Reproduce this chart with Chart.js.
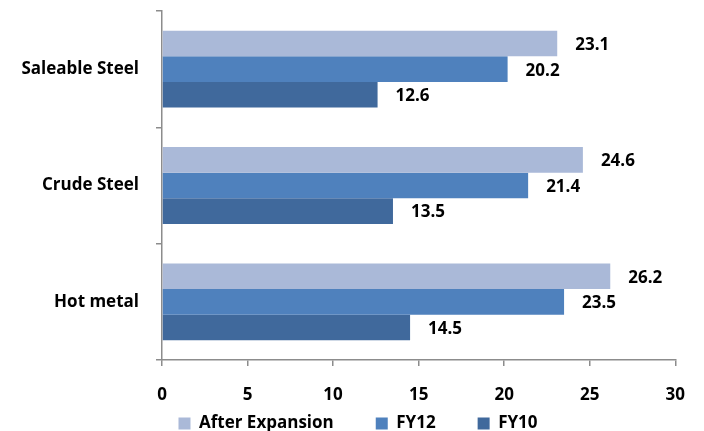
<!DOCTYPE html>
<html><head><meta charset="utf-8">
<script src="https://cdn.jsdelivr.net/npm/chart.js@4/dist/chart.umd.min.js"></script>
<style>html,body{margin:0;padding:0;background:#fff}#wrap{width:704px;height:431px}</style>
</head><body><div id="wrap"><canvas id="c" width="704" height="431"></canvas></div>
<script>
const categories = ['Saleable Steel', 'Crude Steel', 'Hot metal'];
const seriesNames = ['After Expansion', 'FY12', 'FY10'];
const afterExpansion = [23.1, 24.6, 26.2];
const fy12 = [20.2, 21.4, 23.5];
const fy10 = [12.6, 13.5, 14.5];
const xTickValues = [0, 5, 10, 15, 20, 25, 30];

const FONT = 'Open Sans';
const FSIZE = 17;
const LEGEND_PAD = 42;
const LEGEND_BOX_H = 30;

const valueLabels = {
  id: 'valueLabels',
  afterDatasetsDraw(chart) {
    const ctx = chart.ctx;
    ctx.save();
    ctx.font = 'bold ' + FSIZE + 'px "' + FONT + '"';
    ctx.fillStyle = '#000';
    ctx.textAlign = 'left';
    ctx.textBaseline = 'middle';
    chart.data.datasets.forEach((ds, i) => {
      const meta = chart.getDatasetMeta(i);
      meta.data.forEach((bar, j) => {
        ctx.fillText(ds.data[j].toFixed(1), bar.x + 18, bar.y + 1.5);
      });
    });
    ctx.restore();
  }
};

const legendFix = {
  id: 'legendFix',
  afterInit(chart) {
    const lg = chart.legend;
    if (lg && !lg._patched) {
      const orig = lg.fit;
      lg.fit = function () { orig.call(this); this.height = LEGEND_BOX_H; };
      lg._patched = true;
    }
  },
  afterLayout(chart) {
    const lg = chart.legend;
    if (lg) {
      lg.top = 415 - LEGEND_PAD;
      lg.bottom = 431;
      lg.height = lg.bottom - lg.top;
      lg.left = 12;
      lg.right = 704;
      lg.width = lg.right - lg.left;
    }
  }
};

new Chart(document.getElementById('c'), {
  type: 'bar',
  data: {
    labels: categories,
    datasets: [
      { label: seriesNames[0], data: afterExpansion, backgroundColor: '#AAB9D8' },
      { label: seriesNames[1], data: fy12, backgroundColor: '#4F81BD' },
      { label: seriesNames[2], data: fy10, backgroundColor: '#40699C' }
    ]
  },
  options: {
    indexAxis: 'y',
    responsive: false,
    animation: false,
    layout: { padding: { top: 11, right: 26, left: 0, bottom: 0 } },
    datasets: { bar: { categoryPercentage: 0.66, barPercentage: 1.0, borderWidth: 0 } },
    scales: {
      x: {
        min: 0, max: 30,
        afterBuildTicks(scale) { scale.ticks = xTickValues.map(v => ({ value: v })); },
        afterFit(scale) { scale.height = 431 - 360 - LEGEND_BOX_H; },
        grid: { drawOnChartArea: false, drawTicks: true, tickLength: 6, color: '#8c8c8c', lineWidth: 1.5 },
        border: { color: '#8c8c8c', width: 1.5 },
        ticks: { color: '#000', font: { family: FONT, size: FSIZE, weight: 'bold' }, padding: 19, maxRotation: 0 }
      },
      y: {
        afterFit(scale) { scale.width = 162; scale.paddingTop = 0; scale.paddingBottom = 0; },
        grid: { drawOnChartArea: false, drawTicks: true, tickLength: 6, color: '#8c8c8c', lineWidth: 1.5, offset: true },
        border: { color: '#8c8c8c', width: 1.5 },
        ticks: { color: '#000', font: { family: FONT, size: FSIZE, weight: 'bold' }, padding: 17 }
      }
    },
    plugins: {
      legend: {
        position: 'bottom',
        labels: { color: '#000', font: { family: FONT, size: FSIZE, weight: 'bold' }, boxWidth: 12, boxHeight: 12, padding: LEGEND_PAD }
      },
      tooltip: { enabled: false }
    }
  },
  plugins: [legendFix, valueLabels]
});
</script>
</body></html>
